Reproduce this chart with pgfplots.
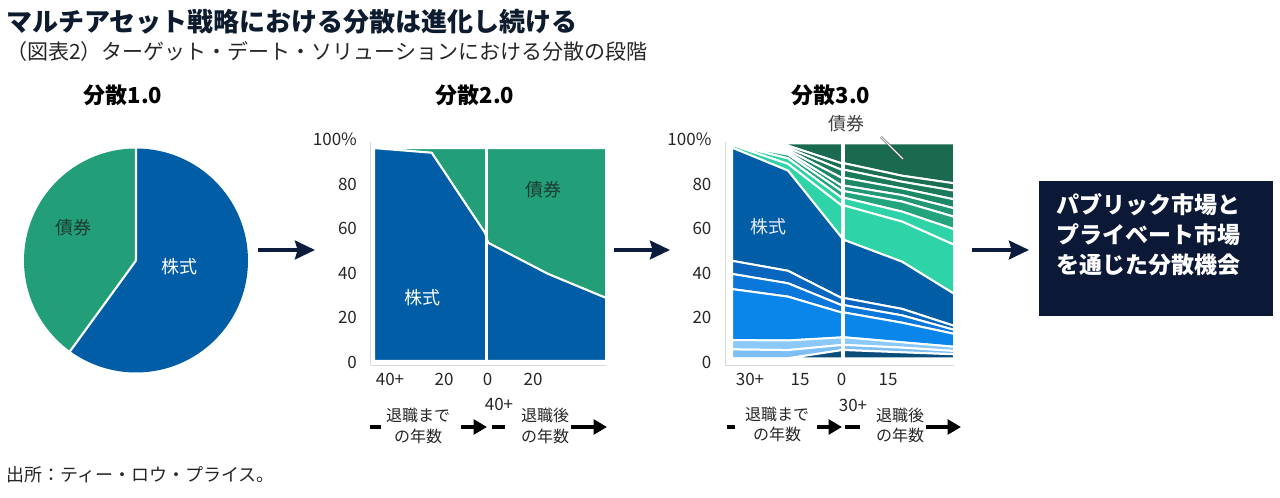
\documentclass[border=0pt]{standalone}
\usepackage{fontspec}
\setmainfont{Noto Sans CJK JP}
\usepackage{pgfplots}
\pgfplotsset{compat=1.18}
\usetikzlibrary{arrows.meta}

\definecolor{titlec}{HTML}{0D1B2E}
\definecolor{navyc}{HTML}{0C1C3C}
\definecolor{boxc}{HTML}{0B1936}
\definecolor{stockc}{HTML}{005DA6}
\definecolor{bondc}{HTML}{229E78}
\definecolor{bondtext}{HTML}{1D3B33}
% layers of the 3.0 panel
\definecolor{c-navy}{HTML}{0B4D7A}
\definecolor{c-lb1}{HTML}{7DBEF4}
\definecolor{c-lb2}{HTML}{8DC9F8}
\definecolor{c-bb}{HTML}{0A86EA}
\definecolor{c-mb1}{HTML}{0A78DA}
\definecolor{c-mb2}{HTML}{0866BE}
\definecolor{c-lg}{HTML}{2ED3A8}
\definecolor{c-g1}{HTML}{22A47C}
\definecolor{c-g2}{HTML}{1F9873}
\definecolor{c-g3}{HTML}{1C8865}
\definecolor{c-g4}{HTML}{1B7A5A}
\definecolor{c-g5}{HTML}{1A6E52}
\definecolor{c-dg}{HTML}{1A6A4F}

% pie shares (%)
\def\pieStock{60}
\def\pieBond{40}

\pgfplotsset{
  stagechart/.style={
    anchor=south west, scale only axis, height=167pt,
    ymin=0, ymax=100,
    axis x line*=bottom, axis y line*=left,
    axis line style={draw=black!15, line width=0.6pt, -},
    major tick length=0pt,
    ytick={0,20,...,100}, yticklabels={0,20,40,60,80,100\%},
    tick label style={font=\fontsize{12.75pt}{14pt}\selectfont, text=black!85},
    yticklabel style={anchor=east, inner sep=0pt, xshift=-10pt, yshift=2pt},
    xticklabel style={anchor=north, inner sep=0pt, yshift=-6pt},
    /pgf/number format/assume math mode=true,
    stack plots=y, clip=false,
  },
  layer/.style={fill=#1, draw=white, line width=1.5pt},
}

\begin{document}
\begin{tikzpicture}
\useasboundingbox (0,0) rectangle (960pt,-373.5pt);

% ---------- 1.0: pie ----------
\pgfmathsetmacro\stockangle{3.6*\pieStock}
\pgfmathsetmacro\bondangle{3.6*\pieBond}
\begin{axis}[at={(102pt,-195.375pt)}, anchor=center, hide axis, scale only axis,
  width=168pt, height=168pt, xmin=-1, xmax=1, ymin=-1, ymax=1]
  \fill[stockc] (axis cs:0,0) -- ++(90:84pt) arc[start angle=90, delta angle=-\stockangle, radius=84pt] -- cycle;
  \fill[bondc] (axis cs:0,0) -- ++(90:84pt) arc[start angle=90, delta angle=\bondangle, radius=84pt] -- cycle;
  \draw[white, line width=1.6pt] (axis cs:0,0) -- ++(90:84.5pt) (axis cs:0,0) -- ++(90-\stockangle:84.5pt);
\end{axis}

% ---------- 2.0: stocks / bonds glide path ----------
\begin{axis}[stagechart, at={(277.875pt,-273.75pt)}, width=176.625pt,
  xmin=-3.5, xmax=232,
  xtick={16,70,113.7,159}, xticklabels={40+,20,0,20}]
  \addplot[draw=none] coordinates {(0,1.8) (57.7,1.8) (111,1.8) (114,1.8) (174,1.8) (232,1.8)};
  \addplot[layer=stockc] coordinates {(0,95.6) (57.7,93.5) (111,57.5) (114,53.1) (174,39.1) (232,28.3)} \closedcycle;
  \addplot[layer=bondc] coordinates {(0,0) (57.7,2.1) (111,38.1) (114,42.5) (174,56.5) (232,67.3)} \closedcycle;
\end{axis}

% ---------- 3.0: multi-asset glide path ----------
\begin{axis}[stagechart, at={(543.75pt,-273.75pt)}, width=171.75pt,
  xmin=-7, xmax=222,
  xtick={18,68,109.7,156}, xticklabels={30+,15,0,15}]
  \addplot[draw=none] coordinates {(0,3) (56,3) (110,3) (113,3) (170,3) (222,3)};
  \addplot[layer=c-navy] coordinates {(0,0) (56,0) (110,3.7) (113,3.7) (170,2.7) (222,1.8)} \closedcycle;
  \addplot[layer=c-lb1]  coordinates {(0,4.0) (56,3.7) (110,2.3) (113,2.3) (170,2.1) (222,1.5)} \closedcycle;
  \addplot[layer=c-lb2]  coordinates {(0,4.2) (56,4.3) (110,3.4) (113,3.4) (170,2.4) (222,1.9)} \closedcycle;
  \addplot[layer=c-bb]   coordinates {(0,22.9) (56,19.7) (110,11.1) (113,11.1) (170,8.8) (222,5.8)} \closedcycle;
  \addplot[layer=c-mb1]  coordinates {(0,6.8) (56,6.0) (110,3.3) (113,3.3) (170,3.3) (222,1.8)} \closedcycle;
  \addplot[layer=c-mb2]  coordinates {(0,5.9) (56,5.6) (110,3.2) (113,3.2) (170,2.9) (222,1.8)} \closedcycle;
  \addplot[layer=stockc] coordinates {(0,50.8) (56,45.0) (110,27.0) (113,26.0) (170,21.2) (222,14.4)} \closedcycle;
  \addplot[layer=c-lg]   coordinates {(0,1.2) (56,3.0) (110,14.5) (113,15.5) (170,18.0) (222,22.0)} \closedcycle;
  \addplot[layer=c-lg]   coordinates {(0,0.2) (56,2.5) (110,3.5) (113,3.5) (170,4.5) (222,7.0)} \closedcycle;
  \addplot[layer=c-g1]   coordinates {(0,0.1) (56,1.7) (110,3.0) (113,3.0) (170,4.5) (222,5.6)} \closedcycle;
  \addplot[layer=c-g2]   coordinates {(0,0.1) (56,1.0) (110,2.5) (113,2.5) (170,2.9) (222,3.8)} \closedcycle;
  \addplot[layer=c-g3]   coordinates {(0,0.1) (56,1.0) (110,3.5) (113,3.5) (170,3.0) (222,4.0)} \closedcycle;
  \addplot[layer=c-g4]   coordinates {(0,0.1) (56,1.0) (110,3.6) (113,3.6) (170,3.0) (222,3.9)} \closedcycle;
  \addplot[layer=c-g5]   coordinates {(0,0.1) (56,1.0) (110,2.9) (113,2.9) (170,2.7) (222,3.3)} \closedcycle;
  \addplot[layer=c-dg]   coordinates {(0,0) (56,1.0) (110,9.0) (113,9.0) (170,14.5) (222,17.9)} \closedcycle;
\end{axis}

\begin{scope}[x=0.75pt, y=-0.75pt]
  % retirement dividers in the two area charts
  \draw[white, line width=2.3pt] (486.6,146) -- (486.6,362);
  \draw[white, line width=2.3pt] (843,141) -- (843,360);

  % titles
  \node[anchor=west, inner sep=0pt, font=\fontsize{19.5pt}{22pt}\selectfont\bfseries, text=titlec] at (6,22)
    {マルチアセット戦略における分散は進化し続ける};
  \node[anchor=west, inner sep=0pt, font=\fontsize{15.75pt}{18pt}\selectfont, text=black!85] at (6,52)
    {（図表2）ターゲット・デート・ソリューションにおける分散の段階};
  \node[anchor=west, inner sep=0pt, font=\fontsize{13.5pt}{16pt}\selectfont, text=black!85] at (6,475)
    {出所：ティー・ロウ・プライス。};

  % stage headings
  \foreach \xx/\tt in {123/1.0, 475/2.0, 831/3.0}
    \node[font=\fontsize{16.5pt}{19pt}\selectfont\bfseries, text=black, inner sep=0pt] at (\xx,95) {分散\tt};

  % in-chart labels
  \begin{scope}[every node/.style={font=\fontsize{13.5pt}{16pt}\selectfont, inner sep=0pt}]
    \node[text=bondtext] at (73,228) {債券};
    \node[text=white] at (179,267) {株式};
    \node[text=bondtext] at (543,190) {債券};
    \node[text=white] at (422,298) {株式};
    \node[text=white!92!blue] at (768,227) {株式};
    \node[text=black!75] at (846,124) {債券};
  \end{scope}
  \draw[black!80, line width=0.45pt, double=white, double distance=0.9pt] (881,137) -- (903,159);

  % stage arrows
  \begin{scope}[navyc, line width=3pt, -{Stealth[length=15pt, width=14pt, inset=2pt]}]
    \draw (258,250) -- (315,250);
    \draw (614,250) -- (670,250);
    \draw (972,250) -- (1029,250);
  \end{scope}

  % final box
  \fill[boxc] (1039,181) rectangle (1273,316);
  \begin{scope}[every node/.style={anchor=west, inner sep=0pt, text=white,
      font=\fontsize{17.25pt}{20pt}\selectfont\bfseries}]
    \node at (1056,205) {パブリック市場と};
    \node at (1056,235) {プライベート市場};
    \node at (1056,265) {を通じた分散機会};
  \end{scope}

  % years axes under the area charts
  \begin{scope}[every node/.style={font=\fontsize{12pt}{14pt}\selectfont, inner sep=0pt, text=black!85}]
    \node at (418,415) {退職まで};
    \node at (418,436) {の年数};
    \node at (545,415) {退職後};
    \node at (545,436) {の年数};
    \node at (777,414) {退職まで};
    \node at (777,434) {の年数};
    \node at (900,415) {退職後};
    \node at (900,435) {の年数};
  \end{scope}
  \node[font=\fontsize{12.75pt}{14pt}\selectfont, inner sep=0pt, text=black!85] at (499,404) {40+};
  \node[font=\fontsize{12.75pt}{14pt}\selectfont, inner sep=0pt, text=black!85] at (853,405) {30+};
  \begin{scope}[black, line width=2.4pt]
    \draw (370,427) -- (381,427);
    \draw (492,427) -- (505,427);
    \draw (727,427) -- (735,427);
    \draw (845,427) -- (860,427);
  \end{scope}
  \begin{scope}[black, line width=2.4pt, -{Triangle[length=10pt, width=11pt]}]
    \draw (461,427) -- (487,427);
    \draw (571,427) -- (607,427);
    \draw (817,427) -- (842,427);
    \draw (926,427) -- (961,427);
  \end{scope}
\end{scope}
\end{tikzpicture}
\end{document}
